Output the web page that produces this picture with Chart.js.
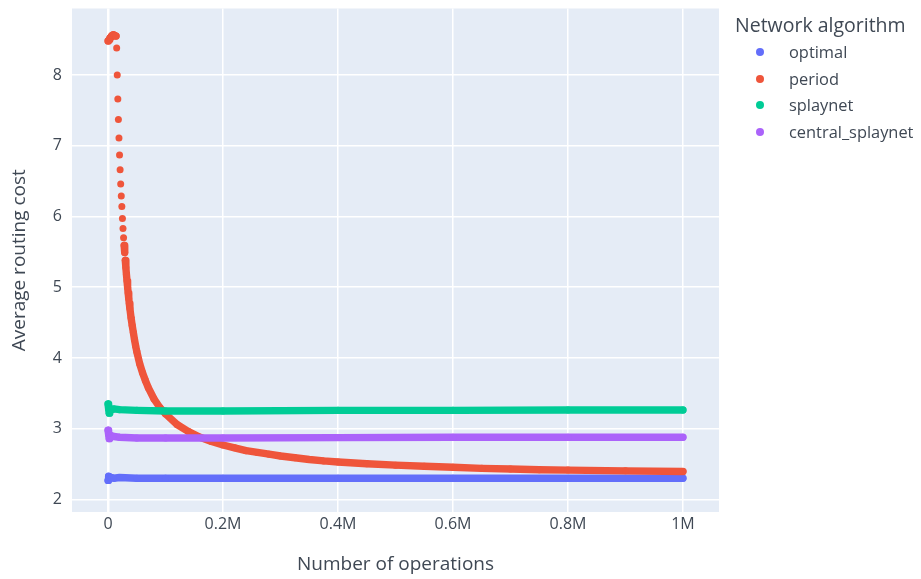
<!DOCTYPE html>
<html>
<head>
<meta charset="utf-8">
<script src="https://cdn.jsdelivr.net/npm/chart.js@4.4.0/dist/chart.umd.min.js"></script>
<style>
    body { margin: 0; background: #fff; font-family: "Open Sans", sans-serif; }
    #wrap { position: relative; width: 921px; height: 579px; }
    #legend { position: absolute; left: 735px; top: 12px; color: #3f4854; }
    #legend .title { font-size: 19.5px; line-height: 26px; height: 27px; }
    #legend .item { font-size: 16.4px; line-height: 26.5px; height: 26.5px; display: flex; align-items: center; }
    #legend .dot { width: 8px; height: 8px; border-radius: 50%; margin-left: 21px; margin-right: 25px; }
</style>
</head>
<body>
<div id="wrap">
    <canvas id="chart" width="921" height="579"></canvas>
    <div id="legend"></div>
</div>
<script>
const legendTitle = "Network algorithm";
const names = ["optimal", "period", "splaynet", "central_splaynet"];
const colors = ["#636efa", "#EF553B", "#00cc96", "#ab63fa"];

// number of operations / average routing cost
const periodOps = [0, 1000, 2000, 3000, 4000, 5000, 6000, 7000, 8000, 9000, 10000, 11000, 12000, 13000, 14000,
    15000, 16000, 17000, 18000, 19000, 20000, 21000, 22000, 23000, 24000, 25000, 26000, 27000, 28000, 29000,
    30000, 31000, 32000, 33000, 34000, 35000, 36000, 37000, 38000, 40000, 42000, 44000, 46000, 48000, 50000,
    55000, 60000, 65000, 70000, 80000, 90000, 100000, 120000, 140000, 160000, 180000, 200000, 220000, 240000,
    260000, 280000, 300000, 325000, 350000, 375000, 400000, 450000, 500000, 550000, 600000, 650000, 700000,
    750000, 800000, 900000, 1000000];
const periodCost = [8.48, 8.49, 8.50, 8.52, 8.53, 8.54, 8.55, 8.56, 8.56, 8.57, 8.57, 8.56, 8.56, 8.55, 8.55,
    8.38, 8.00, 7.66, 7.37, 7.11, 6.87, 6.66, 6.46, 6.29, 6.14, 5.97, 5.83, 5.70, 5.59, 5.49,
    5.38, 5.28, 5.18, 5.09, 5.00, 4.92, 4.84, 4.77, 4.70, 4.57, 4.46, 4.36, 4.26, 4.17, 4.09,
    3.92, 3.79, 3.68, 3.58, 3.42, 3.30, 3.21, 3.06, 2.96, 2.88, 2.82, 2.77, 2.73, 2.69,
    2.665, 2.64, 2.615, 2.59, 2.565, 2.545, 2.53, 2.505, 2.485, 2.47, 2.455, 2.44, 2.43,
    2.42, 2.415, 2.405, 2.395];

const flatOps = [0, 1000, 2000, 3000, 4000, 6000, 10000, 20000, 50000, 100000, 200000, 400000, 600000, 800000, 1000000];
const optimalCost = [2.27, 2.33, 2.31, 2.32, 2.31, 2.31, 2.30, 2.31, 2.30, 2.30, 2.30, 2.30, 2.30, 2.30, 2.30];
const splaynetCost = [3.35, 3.28, 3.22, 3.29, 3.28, 3.27, 3.28, 3.27, 3.26, 3.25, 3.25, 3.26, 3.26, 3.265, 3.265];
const centralCost = [2.98, 2.92, 2.86, 2.91, 2.90, 2.90, 2.89, 2.88, 2.87, 2.87, 2.87, 2.875, 2.88, 2.88, 2.88];

const yTicks = [2, 3, 4, 5, 6, 7, 8];
const xTicks = [0, 200000, 400000, 600000, 800000, 1000000];
const xTickLabels = ["0", "0.2M", "0.4M", "0.6M", "0.8M", "1M"];

const textColor = "#3f4854";

function points(xs, ys) {
    return xs.map((x, i) => ({ x: x, y: ys[i] }));
}

// markers that sit far apart stay separate dots, dense markers merge into a band
function gap(ctx) {
    let dx = ctx.p1.x - ctx.p0.x;
    let dy = Math.abs(ctx.p1.y - ctx.p0.y);
    return (dx < 0.9 && dy > 7.5) ? "rgba(0,0,0,0)" : undefined;
}

function series(i, data) {
    return {
        label: names[i],
        data: data,
        showLine: true,
        borderColor: colors[i],
        borderWidth: 7.4,
        borderCapStyle: "round",
        borderJoinStyle: "round",
        pointRadius: 3.5,
        pointBorderWidth: 0,
        pointBackgroundColor: colors[i],
        segment: { borderColor: gap },
        order: 4 - i
    };
}

const plotBg = {
    id: "plotBg",
    beforeDraw(chart) {
        let a = chart.chartArea;
        let c = chart.ctx;
        c.save();
        c.fillStyle = "#E5ECF6";
        c.fillRect(a.left, a.top, a.right - a.left, a.bottom - a.top);
        c.restore();
    }
};

Chart.defaults.font.family = "'Open Sans', sans-serif";

new Chart(document.getElementById("chart"), {
    type: "scatter",
    data: {
        datasets: [
            series(0, points(flatOps, optimalCost)),
            series(1, points(periodOps, periodCost)),
            series(2, points(flatOps, splaynetCost)),
            series(3, points(flatOps, centralCost))
        ]
    },
    options: {
        responsive: false,
        animation: false,
        layout: { padding: { left: 0, top: 8.5, right: 202, bottom: 0 } },
        plugins: { legend: { display: false }, tooltip: { enabled: false } },
        scales: {
            x: {
                type: "linear",
                min: -62700,
                max: 1062700,
                afterFit: s => { s.height = 67; s.paddingLeft = 0; s.paddingRight = 0; },
                afterBuildTicks: s => { s.ticks = xTicks.map(v => ({ value: v })); },
                ticks: {
                    padding: 3,
                    color: textColor,
                    font: { size: 16 },
                    maxRotation: 0,
                    callback: v => xTickLabels[xTicks.indexOf(v)]
                },
                grid: {
                    color: "#ffffff",
                    lineWidth: ctx => (ctx.tick && ctx.tick.value === 0 ? 2.5 : 1.5),
                    drawTicks: false
                },
                border: { display: false },
                title: {
                    display: true,
                    text: "Number of operations",
                    color: textColor,
                    font: { size: 19 },
                    padding: { top: 0, bottom: 2.8 }
                }
            },
            y: {
                type: "linear",
                min: 1.823,
                max: 8.94,
                afterFit: s => { s.width = 72; s.paddingTop = 0; s.paddingBottom = 0; },
                afterBuildTicks: s => { s.ticks = yTicks.map(v => ({ value: v })); },
                ticks: {
                    padding: 10,
                    color: textColor,
                    font: { size: 16 }
                },
                grid: { color: "#ffffff", lineWidth: 1.5, drawTicks: false },
                border: { display: false },
                title: {
                    display: true,
                    text: "Average routing cost",
                    color: textColor,
                    font: { size: 19 },
                    padding: { top: 8.6, bottom: 0 }
                }
            }
        }
    },
    plugins: [plotBg]
});

let legend = document.getElementById("legend");
let html = '<div class="title">' + legendTitle + '</div>';
for (let i = 0; i < names.length; i++) {
    html += '<div class="item"><span class="dot" style="background:' + colors[i] + '"></span>' + names[i] + '</div>';
}
legend.innerHTML = html;
</script>
</body>
</html>
